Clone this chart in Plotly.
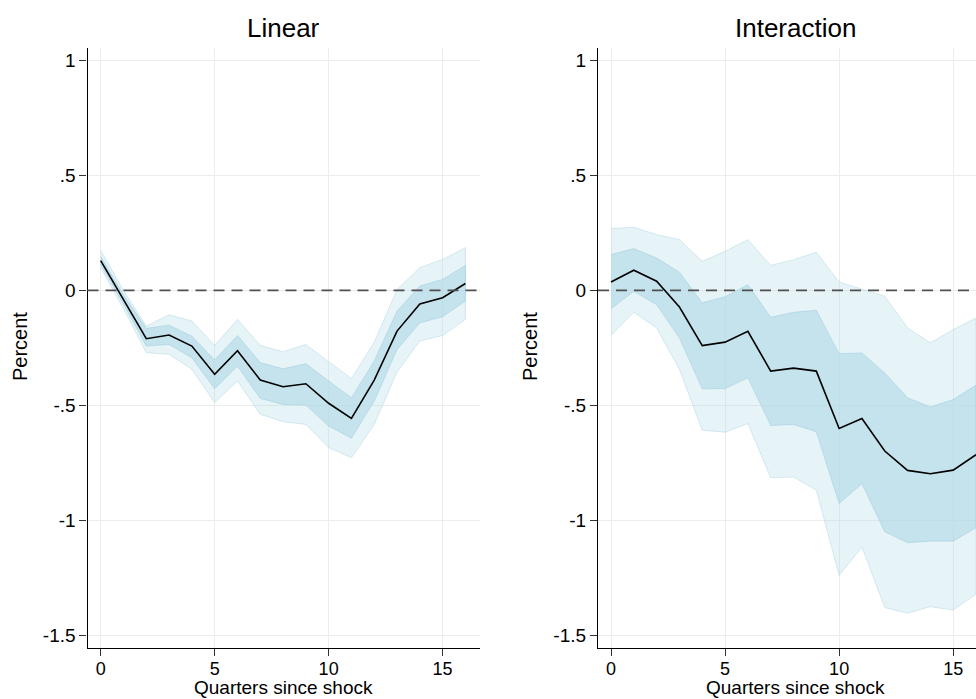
import plotly.graph_objects as go

quarters = list(range(17))

# Linear model: point estimate and confidence bands
lin_mean = [0.130, -0.040, -0.210, -0.194, -0.242, -0.365, -0.262, -0.390, -0.419,
            -0.406, -0.491, -0.557, -0.390, -0.177, -0.059, -0.032, 0.030]
lin_hi_in = [0.149, -0.020, -0.165, -0.151, -0.199, -0.303, -0.196, -0.314, -0.341,
             -0.319, -0.394, -0.467, -0.307, -0.090, 0.019, 0.048, 0.109]
lin_lo_in = [0.113, -0.060, -0.242, -0.235, -0.293, -0.428, -0.329, -0.470, -0.496,
             -0.499, -0.590, -0.643, -0.481, -0.257, -0.141, -0.114, -0.046]
lin_hi_out = [0.175, 0.000, -0.155, -0.106, -0.133, -0.239, -0.126, -0.239, -0.267,
              -0.235, -0.310, -0.383, -0.225, 0.004, 0.099, 0.135, 0.186]
lin_lo_out = [0.099, -0.080, -0.271, -0.278, -0.343, -0.488, -0.394, -0.539, -0.571,
              -0.583, -0.684, -0.728, -0.583, -0.355, -0.220, -0.196, -0.126]

# Interaction model
int_mean = [0.037, 0.088, 0.040, -0.072, -0.240, -0.225, -0.178, -0.351, -0.338,
            -0.351, -0.601, -0.557, -0.699, -0.783, -0.798, -0.782, -0.715]
int_hi_in = [0.156, 0.182, 0.141, 0.079, -0.054, -0.028, 0.025, -0.117, -0.095,
             -0.086, -0.275, -0.272, -0.359, -0.467, -0.507, -0.475, -0.412]
int_lo_in = [-0.080, -0.004, -0.062, -0.207, -0.428, -0.427, -0.380, -0.588, -0.583,
             -0.615, -0.927, -0.841, -1.050, -1.098, -1.091, -1.091, -1.033]
int_hi_out = [0.269, 0.275, 0.243, 0.221, 0.127, 0.170, 0.221, 0.109, 0.134,
              0.166, 0.037, 0.007, -0.025, -0.163, -0.228, -0.170, -0.120]
int_lo_out = [-0.196, -0.095, -0.163, -0.344, -0.608, -0.617, -0.579, -0.815, -0.812,
              -0.869, -1.240, -1.117, -1.380, -1.405, -1.376, -1.391, -1.322]

y_tickvals = [1, 0.5, 0, -0.5, -1, -1.5]
y_ticktext = ["1", ".5", "0", "-.5", "-1", "-1.5"]
x_tickvals = [0, 5, 10, 15]
panel_titles = ["Linear", "Interaction"]
x_title = "Quarters since shock"
y_title = "Percent"

FONT = "Liberation Sans, Arial, Helvetica, sans-serif"
W, H = 976, 699

OUTER_FILL = "rgba(173,216,230,0.30)"
OUTER_LINE = "rgba(150,200,220,0.35)"
INNER_FILL = "rgba(173,216,230,0.60)"
INNER_LINE = "rgba(150,200,220,0.45)"

fig = go.Figure()


def add_panel(mean, lo_in, hi_in, lo_out, hi_out, xa, ya):
    xs = quarters + quarters[::-1]
    fig.add_trace(go.Scatter(x=xs, y=hi_out + lo_out[::-1], fill="toself",
                             fillcolor=OUTER_FILL, line=dict(color=OUTER_LINE, width=1),
                             mode="lines", hoverinfo="skip", showlegend=False,
                             xaxis=xa, yaxis=ya))
    fig.add_trace(go.Scatter(x=xs, y=hi_in + lo_in[::-1], fill="toself",
                             fillcolor=INNER_FILL, line=dict(color=INNER_LINE, width=1),
                             mode="lines", hoverinfo="skip", showlegend=False,
                             xaxis=xa, yaxis=ya))
    fig.add_trace(go.Scatter(x=quarters, y=mean, mode="lines",
                             line=dict(color="black", width=1.6),
                             showlegend=False, xaxis=xa, yaxis=ya))


add_panel(lin_mean, lin_lo_in, lin_hi_in, lin_lo_out, lin_hi_out, "x", "y")
add_panel(int_mean, int_lo_in, int_hi_in, int_lo_out, int_hi_out, "x2", "y2")

y_dom = [(H - 648) / H, (H - 48) / H]
left_dom = [87.5 / W, 480 / W]
right_dom = [598 / W, 1.0]

xcommon = dict(tickvals=x_tickvals, ticks="outside", ticklen=7, tickwidth=1,
               tickcolor="#333333", showline=True, linecolor="black", linewidth=1.2,
               showgrid=True, gridcolor="#ececec", gridwidth=1.2, zeroline=False,
               ticklabelstandoff=-3,
               tickfont=dict(family=FONT, size=18, color="black"))
ycommon = dict(tickvals=y_tickvals, ticktext=y_ticktext, ticks="outside", ticklen=7,
               tickwidth=1, tickcolor="#333333", showline=True, linecolor="black",
               linewidth=1.2, showgrid=True, gridcolor="#ececec", gridwidth=1.2,
               zeroline=False, range=[-1.556, 1.055],
               tickfont=dict(family=FONT, size=19, color="black"))

fig.update_layout(
    width=W, height=H,
    margin=dict(l=0, r=0, t=0, b=0),
    paper_bgcolor="white", plot_bgcolor="white",
    xaxis=dict(domain=left_dom, range=[-0.579, 16.64], anchor="y", **xcommon),
    yaxis=dict(domain=y_dom, anchor="x", **ycommon),
    xaxis2=dict(domain=right_dom, range=[-0.57, 16.0], anchor="y2", **xcommon),
    yaxis2=dict(domain=y_dom, anchor="x2", **ycommon),
)

for xa, ya in [("x", "y"), ("x2", "y2")]:
    fig.add_shape(type="line", xref=f"{xa} domain", yref=ya, x0=0, x1=1, y0=0, y1=0,
                  line=dict(color="#505050", width=1.7, dash="11px,7px"), layer="above")

centers = [(left_dom[0] + left_dom[1]) / 2, (right_dom[0] + 992 / W) / 2]
for cx, t in zip(centers, panel_titles):
    fig.add_annotation(text=t, x=cx, y=1 - 28 / H, xref="paper", yref="paper",
                       xanchor="center", yanchor="middle", showarrow=False,
                       font=dict(family=FONT, size=26, color="black"))
    fig.add_annotation(text=x_title, x=cx, y=0, xref="paper", yref="paper",
                       xanchor="center", yanchor="bottom", showarrow=False,
                       borderpad=0,
                       font=dict(family=FONT, size=19, color="black"))

for px in [20, 530]:
    fig.add_annotation(text=y_title, x=px / W, y=1 - 347 / H, xref="paper", yref="paper",
                       xanchor="center", yanchor="middle", showarrow=False, textangle=-90,
                       font=dict(family=FONT, size=20, color="black"))

fig.write_html("out.html")
